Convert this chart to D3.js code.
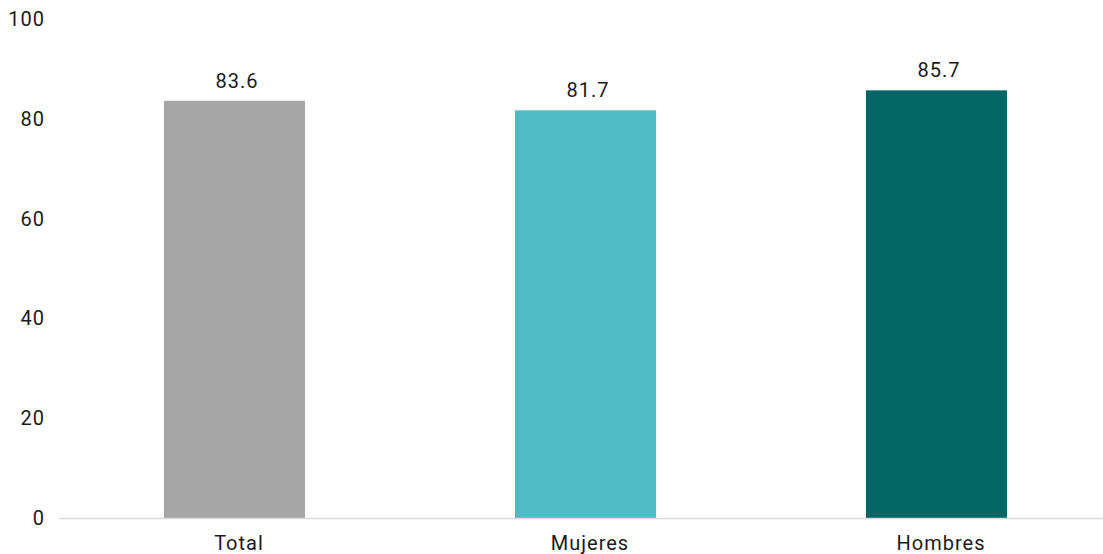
<!DOCTYPE html>
<html lang="es">
  <head>
    <meta charset="UTF-8" />
    <title>Total, Mujeres, Hombres</title>
    <script src="https://d3js.org/d3.v7.min.js"></script>
    <style>
      body {
        margin: 0;
        background: #fff;
        font-family: Roboto, sans-serif;
      }
      text {
        fill: #1a1a1a;
        font-size: 20px;
        letter-spacing: 1px;
      }
    </style>
  </head>
  <body>
    <svg width="1103" height="554"></svg>

    <script>
      // datos
      const categories = ["Total", "Mujeres", "Hombres"];
      const values = [83.6, 81.7, 85.7];
      const colors = ["#a6a6a6", "#4fbcc5", "#036666"];
      const yTicks = [0, 20, 40, 60, 80, 100];

      const svg = d3.select("svg");

      const x = d3
        .scaleBand()
        .domain(categories)
        .range([59, 1112])
        .paddingInner(0.598)
        .paddingOuter(0.299);

      const y = d3.scaleLinear().domain([0, 100]).range([518, 19]);

      // barras
      svg
        .selectAll(".bar")
        .data(values)
        .join("rect")
        .attr("class", "bar")
        .attr("x", (d, i) => x(categories[i]))
        .attr("y", (d) => y(d))
        .attr("width", x.bandwidth())
        .attr("height", (d) => y(0) - y(d))
        .attr("fill", (d, i) => colors[i]);

      // eje x (línea base)
      svg
        .append("line")
        .attr("x1", 59)
        .attr("x2", 1103)
        .attr("y1", y(0) + 0.5)
        .attr("y2", y(0) + 0.5)
        .attr("stroke", "#d9d9d9")
        .attr("stroke-width", 1.5);

      // etiquetas de categoría
      svg
        .selectAll(".cat")
        .data(categories)
        .join("text")
        .attr("class", "cat")
        .attr("x", (d) => x(d) + x.bandwidth() / 2 + 4.5)
        .attr("y", y(0) + 32)
        .attr("text-anchor", "middle")
        .text((d) => d);

      // eje y
      svg
        .selectAll(".ytick")
        .data(yTicks)
        .join("text")
        .attr("class", "ytick")
        .attr("x", 45)
        .attr("y", (d) => y(d) + 7)
        .attr("text-anchor", "end")
        .text((d) => d);

      // valores
      svg
        .selectAll(".val")
        .data(values)
        .join("text")
        .attr("class", "val")
        .attr("x", (d, i) => x(categories[i]) + x.bandwidth() / 2 + 2.5)
        .attr("y", (d) => y(d) - 13)
        .attr("text-anchor", "middle")
        .text((d) => d.toFixed(1));
    </script>
  </body>
</html>
